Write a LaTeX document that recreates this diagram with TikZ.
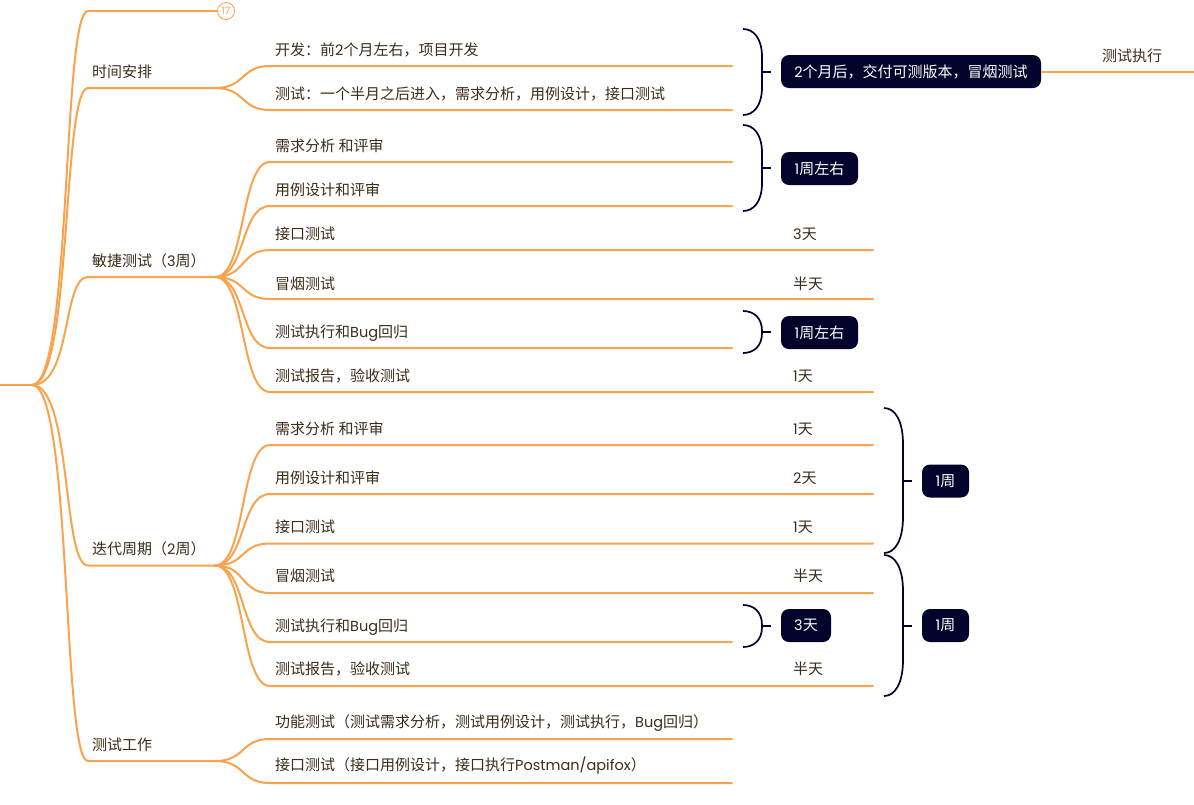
\documentclass[tikz,border=0pt]{standalone}
\usepackage{fontspec}
\setmainfont{Noto Sans CJK SC}
\newfontfamily\latf{Poppins}
\newcommand{\la}[1]{{\latf\fontsize{14.5}{17}\selectfont #1}}
\definecolor{branchc}{HTML}{F9A34F}
\definecolor{inkc}{HTML}{3D2C18}
\definecolor{navyc}{HTML}{03032B}
\tikzset{
  link/.style={draw=branchc,line width=2pt,line cap=round},
  lab/.style={anchor=west,inner sep=0pt,text=inkc,font=\fontsize{15}{18}\selectfont},
  bracec/.style={draw=navyc,line width=1.7pt},
  tagbox/.style={fill=navyc,rounded corners=8pt,text=white,inner sep=0pt,font=\fontsize{15}{18}\selectfont},
  badge/.style={circle,draw=branchc,fill=white,line width=0.8pt,minimum size=17pt,inner sep=0pt,text=branchc,font=\fontsize{10}{11}\selectfont}
}
% main branch: name, y, end x
\newcommand{\mainb}[3]{%
  \coordinate (#1s) at (88,#2);
  \coordinate (#1e) at (#3,#2);
  \path[link] (rootj) .. controls (72,385) and (62,#2) .. (#1s) -- (#1e);}
% child: name, parent, y, end x, text y, text
\newcommand{\childb}[6]{%
  \coordinate (#1s) at (270,#3);
  \coordinate (#1e) at (#4,#3);
  \path[link] (#2e) .. controls (246,\pgfkeysvalueof{/tikz/py}) and (240,#3) .. (#1s) -- (#1e);
  \node[lab] (#1t) at (275,#5) {#6};}
\tikzset{py/.initial=0}
\newcommand{\bracep}[6]{% name, x, ytop, ybot, ymid, curve length
  \coordinate (#1a) at (#2,#3);
  \coordinate (#1m) at (#2+19,#5);
  \coordinate (#1b) at (#2,#4);
  \coordinate (#1k) at (#2+28,#5);
  \path[bracec] (#1a) .. controls (#2+11,#3) and (#2+19,#3+#6*0.35) .. (#2+19,#3+#6) -- (#2+19,#4-#6) .. controls (#2+19,#4-#6*0.35) and (#2+11,#4) .. (#1b);
  \path[bracec] (#1m) -- (#1k);}
\begin{document}
\begin{tikzpicture}[x=1pt,y=-1pt]
\useasboundingbox (0,0) rectangle (1194,804);
\fill[white] (0,0) rectangle (1194,804);
\coordinate (root0) at (0,385);
\coordinate (rootj) at (32,385);
\path[link] (root0) -- (rootj);
% main branches
\mainb{mzero}{11}{217}
\node[badge] (mzerob) at (226,11) {\latf\fontsize{10}{11}\selectfont 17};
\mainb{ma}{88}{215}
\node[lab] (mat) at (92,72) {时间安排};
\mainb{mb}{277}{215}
\node[lab] (mbt) at (92,261) {敏捷测试（\la{3}周）};
\mainb{mc}{565.5}{215}
\node[lab] (mct) at (92,549) {迭代周期（\la{2}周）};
\mainb{md}{761}{215}
\node[lab] (mdt) at (92,745) {测试工作};
% children
\tikzset{py=88}
\childb{a1}{ma}{66}{732}{50}{开发：前\la{2}个月左右，项目开发}
\childb{a2}{ma}{110}{732}{94}{测试：一个半月之后进入，需求分析，用例设计，接口测试}
\tikzset{py=277}
\childb{b1}{mb}{162}{732}{146}{需求分析 和评审}
\childb{b2}{mb}{206}{732}{190}{用例设计和评审}
\childb{b3}{mb}{250}{873}{234}{接口测试}
\childb{b4}{mb}{299}{873}{283.5}{冒烟测试}
\childb{b5}{mb}{348}{732}{333}{测试执行和\la{Bug}回归}
\childb{b6}{mb}{392}{873}{376}{测试报告，验收测试}
\tikzset{py=565.5}
\childb{c1}{mc}{445}{873}{429}{需求分析 和评审}
\childb{c2}{mc}{494}{873}{478}{用例设计和评审}
\childb{c3}{mc}{543.5}{873}{527}{接口测试}
\childb{c4}{mc}{593}{873}{576}{冒烟测试}
\childb{c5}{mc}{642}{732}{627}{测试执行和\la{Bug}回归}
\childb{c6}{mc}{686}{873}{669}{测试报告，验收测试}
\tikzset{py=761}
\childb{d1}{md}{739}{732}{723.5}{功能测试（测试需求分析，测试用例设计，测试执行，\la{Bug}回归）}
\childb{d2}{md}{783}{732}{766}{接口测试（接口用例设计，接口执行\la{Postman/apifox}）}
% right labels
\node[lab] (b3r) at (793,234) {\la{3}天};
\node[lab] (b4r) at (793,283.5) {半天};
\node[lab] (b6r) at (793,376) {\la{1}天};
\node[lab] (c1r) at (793,429) {\la{1}天};
\node[lab] (c2r) at (793,478) {\la{2}天};
\node[lab] (c3r) at (793,527) {\la{1}天};
\node[lab] (c4r) at (793,576) {半天};
\node[lab] (c6r) at (793,669) {半天};
% braces and tags
\bracep{ba}{743}{29}{115}{72}{28}
\node[tagbox,minimum width=260pt,minimum height=33pt] (ta) at (911,71.5) {\la{2}个月后，交付可测版本，冒烟测试};
\bracep{bb}{743}{125}{211}{168}{28}
\node[tagbox,minimum width=77pt,minimum height=33pt] (tb) at (819.5,168.5) {\la{1}周左右};
\bracep{bc}{743}{311}{353}{332}{20}
\node[tagbox,minimum width=77pt,minimum height=33pt] (tc) at (819.5,332.5) {\la{1}周左右};
\bracep{bd}{884}{408}{553}{481}{36}
\node[tagbox,minimum width=47pt,minimum height=33pt] (td) at (945.5,481) {\la{1}周};
\bracep{be}{884}{555}{696}{626}{36}
\node[tagbox,minimum width=47pt,minimum height=33pt] (te) at (945.5,625.5) {\la{1}周};
\bracep{bf}{743}{605}{647}{626}{20}
\node[tagbox,minimum width=50pt,minimum height=33pt] (tf) at (806,625.5) {\la{3}天};
% onward
\coordinate (oute) at (1194,72);
\path[link,line cap=butt] (ta.east) ++(0,0.5) -- (oute);
\node[lab] (outt) at (1102,56) {测试执行};
\end{tikzpicture}
\end{document}
